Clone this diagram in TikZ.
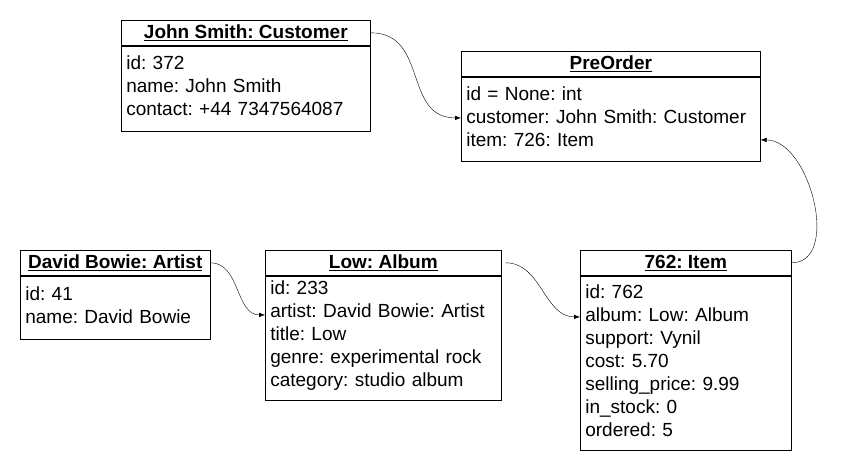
\documentclass[tikz,border=0pt]{standalone}
\usepackage{fontspec}
\setmainfont{Liberation Sans}
\frenchspacing
\usetikzlibrary{positioning,arrows.meta,calc}
\tikzset{every picture/.style={>={Latex[length=6pt,width=4.5pt]},semithick}}
\tikzset{classhead/.style={draw,anchor=north west,minimum width=#1,minimum height=25,inner sep=0pt}}
\tikzset{classbody/.style={draw,anchor=north west,align=left,inner xsep=5pt,inner ysep=0pt,text width=#1,
    execute at end node={\par\vspace{5pt}}}}
\tikzset{link/.style={->,thin}}
\newcommand{\cname}[1]{\underline{\textbf{#1}}}

\begin{document}
\begin{tikzpicture}[x=1pt,y=-1pt,font=\fontsize{19}{23}\selectfont]
      \useasboundingbox (0,0) rectangle (861,471);
      % customer
      \node [classhead=249] (custhead) at (121,20) {\cname{John Smith: Customer}};
      \node [classbody=239pt,minimum height=85] (custbody) at (custhead.south west)
        {id: 372\\name: John Smith\\contact: +44 7347564087};
      % preorder
      \node [classhead=299] (prehead) at (461,51) {\cname{PreOrder}};
      \node [classbody=289pt,minimum height=84] (prebody) at (prehead.south west)
        {id = None: int\\customer: John Smith: Customer\\item: 726: Item};
      % artist
      \node [classhead=190] (arthead) at (20,250) {\cname{David Bowie: Artist}};
      \node [classbody=180pt,minimum height=63] (artbody) at (arthead.south west)
        {id: 41\\name: David Bowie};
      % album
      \node [classhead=236] (albhead) at (265,250) {\cname{Low: Album}};
      \node [classbody=226pt,minimum height=124] (albbody) at (albhead.south west)
        {id: 233\\artist: David Bowie: Artist\\title: Low\\genre: experimental rock\\category: studio album};
      % item
      \node [classhead=211] (itemhead) at (580,250) {\cname{762: Item}};
      \node [classbody=201pt,minimum height=174] (itembody) at (itemhead.south west)
        {id: 762\\album: Low: Album\\support: Vynil\\cost: 5.70\\selling\_price: 9.99\\in\_stock: 0\\ordered: 5};
      % references
      \draw [link] (custhead.east) to[out=0,in=180,looseness=1.2] ([yshift=1pt]prebody.west);
      \draw [link] (itemhead.east) to[out=0,in=0,looseness=1] ([yshift=-21pt]prebody.east);
      \draw [link] (arthead.east) to[out=0,in=180] ([yshift=23pt]albbody.west);
      \draw [link] ([xshift=4pt]albhead.east) to[out=0,in=180] ([yshift=46pt]itembody.west);
\end{tikzpicture}
\end{document}
